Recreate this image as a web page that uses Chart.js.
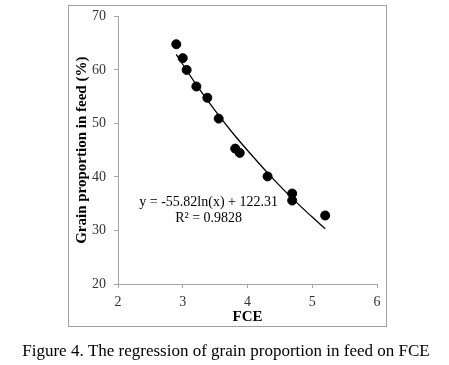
<!DOCTYPE html>
<html>
<head>
<meta charset="utf-8">
<script src="https://cdn.jsdelivr.net/npm/chart.js@4.4.0/dist/chart.umd.min.js"></script>
<style>
  html, body { margin: 0; padding: 0; background: #fff; }
  #wrap { width: 449px; height: 365px; }
</style>
</head>
<body>
<div id="wrap"><canvas id="chartGrain" width="449" height="365"></canvas></div>
<script>
// observed points (FCE vs grain %)
const fceValues = [2.9, 3.0, 3.06, 3.21, 3.38, 3.555, 3.81, 3.88, 4.31, 4.69, 4.69, 5.2]
const grainValues = [64.8, 62.2, 60.0, 56.9, 54.8, 50.9, 45.3, 44.5, 40.1, 36.9, 35.6, 32.8]

// trend line
const trendX = [2.9, 3.2, 3.5, 3.8, 4.1, 4.4, 4.7, 5.0, 5.2]
const trendY = [62.9, 57.4, 52.4, 47.8, 43.6, 39.6, 35.9, 32.5, 30.3]

const xTicks = [2, 3, 4, 5, 6]
const yTicks = [20, 30, 40, 50, 60, 70]

const equationText = 'y = -55.82ln(x) + 122.31'
const r2Text = 'R² = 0.9828'
const captionText = 'Figure 4. The regression of grain proportion in feed on FCE'

function intChart() {
  const serif = "'Liberation Serif', 'DejaVu Serif', serif"
  const points = fceValues.map((x, i) => ({ x: x, y: grainValues[i] }))
  const trend = trendX.map((x, i) => ({ x: x, y: trendY[i] }))

  const framePlugin = {
    id: 'frame',
    beforeDraw(chart) {
      const ctx = chart.ctx
      ctx.save()
      ctx.fillStyle = '#fff'
      ctx.fillRect(0, 0, chart.width, chart.height)
      ctx.strokeStyle = '#a0a0a0'
      ctx.lineWidth = 1
      ctx.strokeRect(68.5, 5.5, 318, 321)
      ctx.restore()
    },
    afterDraw(chart) {
      const ctx = chart.ctx
      const xs = chart.scales.x
      const ys = chart.scales.y
      ctx.save()
      ctx.fillStyle = '#000'
      ctx.textAlign = 'center'
      ctx.textBaseline = 'middle'
      ctx.font = '14px ' + serif
      const cx = xs.getPixelForValue(3.4)
      ctx.fillText(equationText, cx, ys.getPixelForValue(35.3))
      ctx.fillText(r2Text, cx, ys.getPixelForValue(32.3))
      ctx.font = '17px ' + serif
      ctx.fillText(captionText, 226, 352)
      ctx.restore()
    }
  }

  const ctx = document.getElementById('chartGrain').getContext('2d')
  const config = {
    type: 'scatter',
    data: {
      datasets: [{
        label: 'Grain',
        data: points,
        backgroundColor: '#000',
        borderColor: '#000',
        pointRadius: 4.5,
        pointHoverRadius: 4.5
      }, {
        label: 'Trend',
        data: trend,
        showLine: true,
        borderColor: '#000',
        borderWidth: 1.3,
        pointRadius: 0,
        tension: 0.4,
        fill: false
      }]
    },
    options: {
      responsive: false,
      animation: false,
      layout: { padding: { left: 68, right: 72, top: 16, bottom: 38 } },
      plugins: { legend: { display: false }, tooltip: { enabled: false } },
      scales: {
        x: {
          type: 'linear',
          min: 2,
          max: 6,
          afterBuildTicks: s => { s.ticks = xTicks.map(v => ({ value: v })) },
          afterFit: s => { s.height = 43 },
          grid: { drawOnChartArea: false, tickLength: 4, color: '#a6a6a6' },
          border: { color: '#a6a6a6' },
          ticks: { color: '#333', font: { family: serif, size: 14 }, padding: 6 },
          title: { display: true, text: 'FCE', color: '#000', font: { family: serif, size: 15, weight: 'bold' }, padding: { top: 0, bottom: 1 } }
        },
        y: {
          min: 20,
          max: 70,
          afterBuildTicks: s => { s.ticks = yTicks.map(v => ({ value: v })) },
          afterFit: s => { s.width = 50 },
          grid: { drawOnChartArea: false, tickLength: 4, color: '#a6a6a6' },
          border: { color: '#a6a6a6' },
          ticks: { color: '#333', font: { family: serif, size: 14 }, padding: 8 },
          title: { display: true, text: 'Grain proportion in feed (%)', color: '#000', font: { family: serif, size: 15, weight: 'bold' }, padding: { top: 5, bottom: 0 } }
        }
      }
    },
    plugins: [framePlugin]
  }
  new Chart(ctx, config)
}
intChart()
</script>
</body>
</html>
